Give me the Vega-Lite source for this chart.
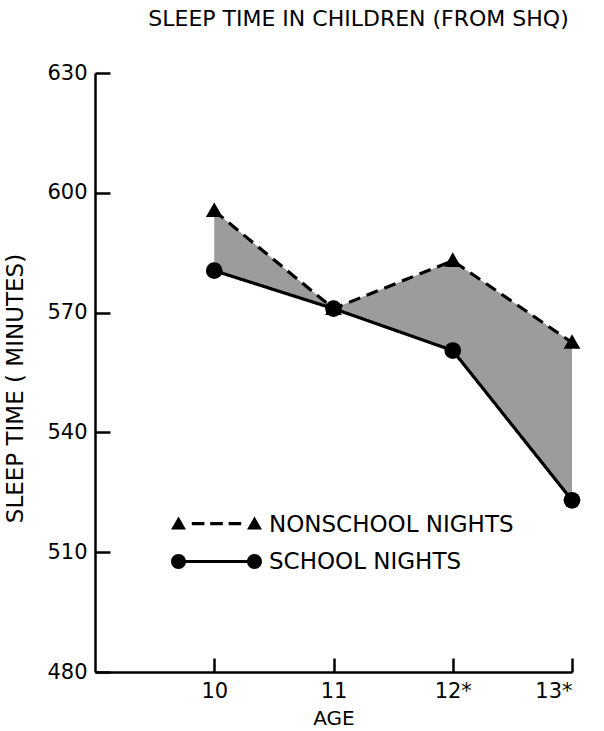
{
  "$schema": "https://vega.github.io/schema/vega-lite/v6.json",
  "width": 477,
  "height": 599,
  "autosize": {"type": "none"},
  "padding": {"left": 95, "top": 73, "right": 32, "bottom": 59},
  "background": "white",
  "title": {"text": "SLEEP TIME IN CHILDREN (FROM SHQ)", "font": "DejaVu Sans", "fontSize": 22, "fontWeight": "normal", "color": "black", "offset": 31, "dx": 25, "anchor": "middle"},
  "data": {"values": [
    {"age": 10, "nonschool": 595.5, "school": 580.5},
    {"age": 11, "nonschool": 571, "school": 571},
    {"age": 12, "nonschool": 583, "school": 560.5},
    {"age": 13, "nonschool": 562.5, "school": 523}
  ]},
  "config": {
    "view": {"stroke": null},
    "font": "DejaVu Sans",
    "axis": {"grid": false, "domainColor": "black", "tickColor": "black", "labelColor": "black", "titleColor": "black", "labelFont": "DejaVu Sans", "titleFont": "DejaVu Sans", "titleFontWeight": "normal", "domainWidth": 2.5, "tickWidth": 2.5}
  },
  "layer": [
    {
      "mark": {"type": "area", "color": "#9c9c9c", "opacity": 1},
      "encoding": {
        "x": {"field": "age", "type": "quantitative", "scale": {"domain": [9, 13]},
          "axis": {"values": [10, 11, 12, 13], "tickSize": -14, "labelExpr": "datum.value >= 12 ? datum.value + '*' : datum.value", "labelFontSize": 21, "labelPadding": 22, "labelBaseline": "top", "title": "AGE", "titleFontSize": 20, "titleY": 46, "titleBaseline": "middle"}},
        "y": {"field": "nonschool", "type": "quantitative", "scale": {"domain": [480, 630], "nice": false, "zero": false},
          "axis": {"values": [480, 510, 540, 570, 600, 630], "tickSize": -15, "labelFontSize": 21, "labelPadding": 23, "title": "SLEEP TIME ( MINUTES)", "titleFontSize": 23, "titleX": -80, "titleY": 315, "titleBaseline": "middle"}},
        "y2": {"field": "school"}
      }
    },
    {
      "transform": [{"fold": ["nonschool", "school"], "as": ["series", "minutes"]}],
      "layer": [
        {
          "mark": {"type": "line", "color": "black", "strokeWidth": 3.2},
          "encoding": {
            "x": {"field": "age", "type": "quantitative", "scale": {"domain": [9, 13]}, "title": "AGE"},
            "y": {"field": "minutes", "type": "quantitative", "scale": {"domain": [480, 630], "nice": false, "zero": false}, "title": "SLEEP TIME ( MINUTES)"},
            "detail": {"field": "series", "type": "nominal"},
            "strokeDash": {"condition": {"test": "datum.series == 'nonschool'", "value": [12, 7]}, "value": [1, 0]}
          }
        },
        {
          "mark": {"type": "point", "filled": true, "color": "black", "opacity": 1, "size": 280},
          "encoding": {
            "x": {"field": "age", "type": "quantitative", "scale": {"domain": [9, 13]}, "title": "AGE"},
            "y": {"field": "minutes", "type": "quantitative", "scale": {"domain": [480, 630], "nice": false, "zero": false}, "title": "SLEEP TIME ( MINUTES)"},
            "shape": {"condition": {"test": "datum.series == 'nonschool'", "value": "M-1,0.75L1,0.75L0,-1Z"}, "value": "circle"}
          }
        },
        {
          "mark": {"type": "point", "filled": true, "color": "black", "opacity": 0, "size": 10},
          "encoding": {
            "x": {"field": "age", "type": "quantitative", "scale": {"domain": [9, 13]}, "title": "AGE"},
            "y": {"field": "minutes", "type": "quantitative", "scale": {"domain": [480, 630], "nice": false, "zero": false}, "title": "SLEEP TIME ( MINUTES)"},
            "shape": {"field": "series", "type": "nominal",
              "scale": {"domain": ["nonschool", "school"], "range": [
                "M-5.05,0.55L-3.39,0.55L-4.22,-0.9Z M3.39,0.55L5.05,0.55L4.22,-0.9Z M-2.745,-0.27L-1.345,-0.27L-1.345,0.07L-2.745,0.07Z M-0.7,-0.27L0.7,-0.27L0.7,0.07L-0.7,0.07Z M1.345,-0.27L2.745,-0.27L2.745,0.07L1.345,0.07Z",
                "M-5.05,0A0.83,0.83,0,1,1,-3.39,0A0.83,0.83,0,1,1,-5.05,0Z M3.39,0A0.83,0.83,0,1,1,5.05,0A0.83,0.83,0,1,1,3.39,0Z M-3.4,-0.17L3.4,-0.17L3.4,0.17L-3.4,0.17Z"]},
              "legend": {"title": null, "orient": "none", "legendX": 110, "legendY": 440,
                "labelExpr": "datum.value == 'nonschool' ? 'NONSCHOOL NIGHTS' : 'SCHOOL NIGHTS'",
                "labelFontSize": 23, "labelFont": "DejaVu Sans", "labelColor": "black", "labelLimit": 500,
                "symbolSize": 324, "symbolFillColor": "black", "symbolOpacity": 1,
                "labelOffset": 41, "rowPadding": 13}}
          }
        }
      ]
    }
  ]
}
